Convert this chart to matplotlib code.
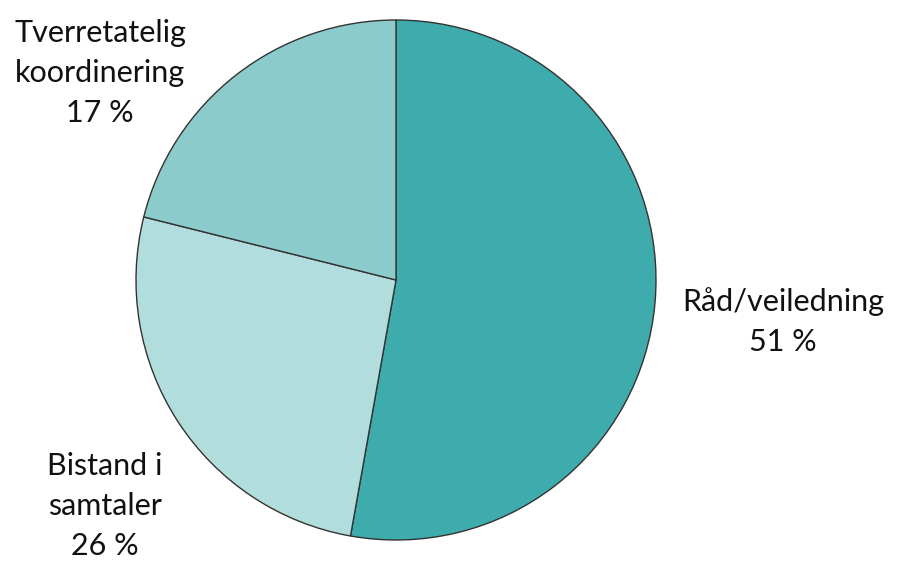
import matplotlib.pyplot as plt

labels = ["Råd/veiledning", "Bistand i\nsamtaler", "Tverretatelig\nkoordinering"]
shares = [52.8, 26.1, 21.1]          # slice sizes as drawn
pct_text = ["51 %", "26 %", "17 %"]  # percentages printed on the chart
colors = ["#3eabad", "#b2dddd", "#8ccbcb"]

plt.rcParams["font.family"] = ["Lato", "DejaVu Sans"]

fig = plt.figure(figsize=(9.07, 5.62), dpi=100)
ax = fig.add_axes([0, 0, 1, 1])

ax.pie(shares, colors=colors, startangle=90, counterclock=False,
       radius=1.0, wedgeprops=dict(edgecolor="#333333", linewidth=1.0))

# pixel layout: centre at (396, 280), radius 260 px
ax.set_xlim(-396 / 260, (907 - 396) / 260)
ax.set_ylim(-282 / 260, 280 / 260)
ax.set_aspect("equal", adjustable="datalim")

label_pos = [(1.488, -0.158), (-1.119, -0.869), (-1.138, 0.796)]
for lab, pct, (x, y) in zip(labels, pct_text, label_pos):
    ax.text(x, y, lab + "\n" + pct, ha="center", va="center",
            fontsize=22, linespacing=1.52, color="#111111")

fig.savefig("out.png", dpi=100)
